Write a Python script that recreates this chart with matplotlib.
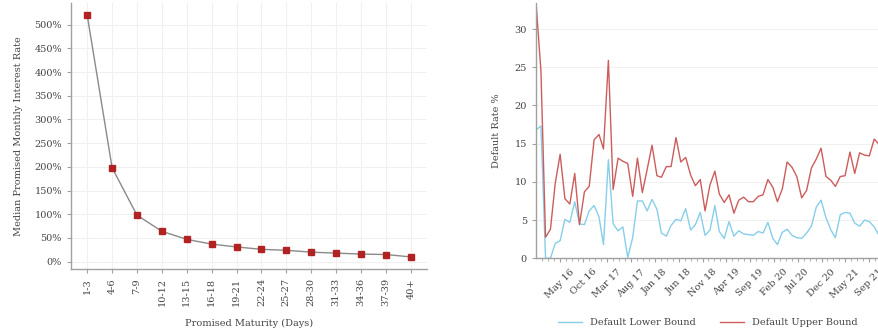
#!/usr/bin/env python3
# -*- coding: utf-8 -*-
"""
Tasa de interes por plazo y tasas de default mensuales.
"""

import numpy as np
import pandas as pd
import matplotlib
matplotlib.use('Agg')
import matplotlib.pyplot as plt
import matplotlib.dates as mdates
from matplotlib.ticker import AutoMinorLocator, FuncFormatter, MultipleLocator

plt.rc('font', family='DejaVu Serif', size=7)

# --- panel izquierdo ---
maturity = ['1-3', '4-6', '7-9', '10-12', '13-15', '16-18', '19-21', '22-24',
            '25-27', '28-30', '31-33', '34-36', '37-39', '40+']
median_rate = [520, 198, 98, 64, 47, 37, 31, 26, 24, 20, 18, 16, 15, 10]

# --- panel derecho (mensual, 72 meses desde ene 2016) ---
months = pd.date_range('2016-01-01', periods=72, freq='MS')
default_upper = [33.5, 24.5, 2.75, 3.8, 9.8, 13.6, 7.8, 7.1, 11.1, 4.4,
                 8.7, 9.4, 15.5, 16.2, 14.3, 25.9, 9.0, 13.1, 12.7, 12.4,
                 8.1, 13.1, 8.6, 11.6, 14.8, 10.8, 10.6, 12.0, 12.0, 15.8,
                 12.6, 13.2, 10.9, 9.5, 10.3, 6.2, 9.6, 11.4, 8.4, 7.3,
                 8.3, 5.9, 7.6, 8.0, 7.4, 7.4, 8.1, 8.3, 10.3, 9.3,
                 7.4, 9.1, 12.6, 11.9, 10.7, 7.9, 8.9, 11.8, 13.0, 14.4,
                 10.7, 10.2, 9.4, 10.7, 10.8, 13.9, 11.1, 13.8, 13.5, 13.4,
                 15.6, 14.9]
default_lower = [16.8, 17.3, 0.0, 0.0, 1.95, 2.3, 5.1, 4.7, 7.4, 4.5,
                 4.4, 6.2, 6.9, 5.4, 1.8, 12.9, 4.5, 3.6, 4.1, 0.1,
                 2.7, 7.5, 7.5, 6.2, 7.7, 6.4, 3.3, 2.9, 4.3, 5.1,
                 4.9, 6.5, 3.7, 4.4, 6.0, 3.0, 3.7, 6.9, 3.5, 2.6,
                 4.8, 2.9, 3.6, 3.2, 3.1, 3.0, 3.5, 3.3, 4.7, 2.6,
                 1.8, 3.4, 3.8, 3.0, 2.7, 2.6, 3.3, 4.2, 6.7, 7.6,
                 5.3, 3.7, 2.7, 5.7, 6.0, 5.9, 4.6, 4.2, 5.0, 4.8,
                 4.1, 3.0]

text_col = '#444444'
spine_col = '#a0a0a0'
grid_col = '#f0f0f0'


def estilo(ax):
    for s in ['top', 'right']:
        ax.spines[s].set_visible(False)
    for s in ['left', 'bottom']:
        ax.spines[s].set_color(spine_col)
        ax.spines[s].set_linewidth(1.0)
    ax.tick_params(colors=spine_col, labelcolor=text_col, length=3, width=0.8)
    ax.set_axisbelow(True)


fig = plt.figure(figsize=(8.79, 3.35), dpi=100)

# izquierda
ax1 = fig.add_axes([0.0808, 0.197, 0.405, 0.794])
x = np.arange(len(maturity))
ax1.plot(x, median_rate, color='#8a8a8a', lw=1.0, marker='s', ms=4,
         mfc='#b22222', mec='#b22222', zorder=3)
ax1.set_xticks(x)
ax1.set_xticklabels(maturity, rotation=90)
ax1.set_yticks(np.arange(0, 501, 50))
ax1.yaxis.set_major_formatter(FuncFormatter(lambda v, p: '%d%%' % v))
ax1.grid(True, color=grid_col, lw=0.8)
ax1.set_xlabel('Promised Maturity (Days)', color=text_col, labelpad=9)
ax1.set_ylabel('Median Promised Monthly Interest Rate', color=text_col, labelpad=8)
estilo(ax1)

# derecha
ax2 = fig.add_axes([0.6098, 0.229, 0.3902, 0.762])
ax2.plot(months, default_lower, color='#87ceeb', lw=1.0, label='Default Lower Bound')
ax2.plot(months, default_upper, color='#cd5c5c', lw=1.0, label='Default Upper Bound')
ax2.set_ylim(0, 33.4)
ax2.set_xlim(months[0], months[-1])
ax2.set_yticks(np.arange(0, 31, 5))
ax2.xaxis.set_major_locator(MultipleLocator(150))
ax2.xaxis.set_major_formatter(mdates.DateFormatter('%b %y'))
ax2.xaxis.set_minor_locator(AutoMinorLocator(4))
for lab in ax2.get_xticklabels():
    lab.set_rotation(45)
ax2.grid(True, axis='y', color=grid_col, lw=0.8)
ax2.set_ylabel('Default Rate %', color=text_col, labelpad=10)
ax2.tick_params(axis='x', which='minor', length=2, color=spine_col)
estilo(ax2)
ax2.legend(loc='upper center', bbox_to_anchor=(0.5, -0.2), ncol=2, frameon=False,
           handlelength=2.5, columnspacing=2.5, labelcolor=text_col)

fig.savefig('out.png', dpi=100)
